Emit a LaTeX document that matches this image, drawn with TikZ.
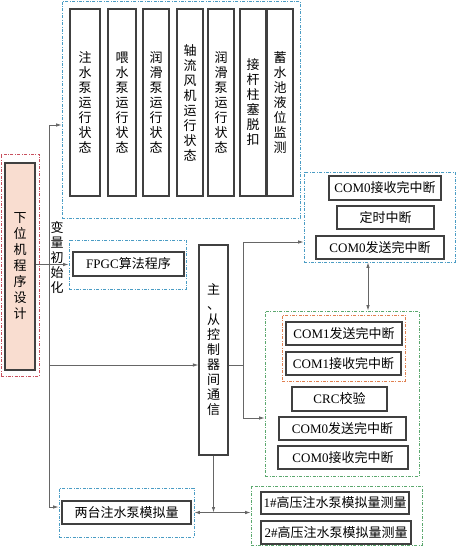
\documentclass[tikz,border=0pt]{standalone}
\usepackage{fontspec}
\setmainfont{Liberation Serif}
\newfontfamily\cjk{Noto Sans CJK SC}
\usetikzlibrary{arrows.meta}
\definecolor{grpblue}{HTML}{4A9CC4}
\definecolor{grpgreen}{HTML}{5BA86E}
\definecolor{grporange}{HTML}{E08050}
\definecolor{grpred}{HTML}{C8505E}
\definecolor{peach}{HTML}{F9DDD0}
\newcommand\en[1]{{\rmfamily #1}}

\begin{document}
\begin{tikzpicture}[x=1pt,y=-1pt,>={Latex[length=5.5pt,width=3.5pt]},font=\cjk\fontsize{13}{15}\selectfont]
	\tikzstyle{box}=[draw=black!75,line width=1.1pt,inner sep=0pt,align=center]
	\tikzstyle{col}=[box,minimum height=187pt]
	\tikzstyle{bar}=[box,minimum height=23pt]
	\tikzstyle{grp}=[line width=0.8pt,dash pattern=on 3pt off 1.5pt on 0.8pt off 1.5pt,inner sep=0pt]
	\tikzstyle{link}=[draw=black!60,line width=0.8pt]
	\useasboundingbox (0,0) rectangle (456,546);

	% groups
	\node[grp,draw=grpred,minimum width=38pt,minimum height=222pt] (maingrp) at (20,265) {};
	\node[grp,draw=grpblue,minimum width=238pt,minimum height=217pt] (stategrp) at (181,109.5) {};
	\node[grp,draw=grpblue,minimum width=117pt,minimum height=49pt] (fpgcgrp) at (127.5,264.5) {};
	\node[grp,draw=grpblue,minimum width=151pt,minimum height=90pt] (intgrp) at (379.5,217) {};
	\node[grp,draw=grpgreen,minimum width=154pt,minimum height=165pt] (commgrp) at (342,393.5) {};
	\node[grp,draw=grporange,minimum width=123pt,minimum height=66pt] (com1grp) at (343.5,348) {};
	\node[grp,draw=grpblue,minimum width=135pt,minimum height=49pt] (pumpgrp) at (126.5,512.5) {};
	\node[grp,draw=grpgreen,minimum width=171pt,minimum height=59pt] (measgrp) at (336.5,515.5) {};

	% boxes
	\node[box,fill=peach,minimum width=30pt,minimum height=207pt,font=\cjk\fontsize{13}{16}\selectfont] (lower) at (20,266.5) {下\\位\\机\\程\\序\\设\\计};
	\node[col,minimum width=30pt] (s1) at (85,102.5) {注\\水\\泵\\运\\行\\状\\态};
	\node[col,minimum width=28pt] (s2) at (122,102.5) {喂\\水\\泵\\运\\行\\状\\态};
	\node[col,minimum width=26pt] (s3) at (156,102.5) {润\\滑\\泵\\运\\行\\状\\态};
	\node[col,minimum width=26pt] (s4) at (190,102.5) {轴\\流\\风\\机\\运\\行\\状\\态};
	\node[col,minimum width=26pt] (s5) at (221,102.5) {润\\滑\\泵\\运\\行\\状\\态};
	\node[col,minimum width=26pt] (s6) at (253,102.5) {接\\杆\\柱\\塞\\脱\\扣};
	\node[col,minimum width=26pt] (s7) at (280,102.5) {蓄\\水\\池\\液\\位\\监\\测};

	\node[box,minimum width=111pt,minimum height=24pt] (fpgc) at (128.5,264) {\en{FPGC}算法程序};
	\node[box,minimum width=29pt,minimum height=210pt] (main) at (213.5,350) {主\\、\\从\\控\\制\\器\\间\\通\\信};

	\node[bar,minimum width=112pt,minimum height=24pt] (r0recv) at (385,188) {\en{COM0}接收完中断};
	\node[bar,minimum width=97pt] (timer) at (385.5,217.5) {定时中断};
	\node[bar,minimum width=128pt] (r0send) at (380,247.5) {\en{COM0}发送完中断};

	\node[bar,minimum width=116pt] (c1send) at (344,333.5) {\en{COM1}发送完中断};
	\node[bar,minimum width=115pt] (c1recv) at (343.5,363.5) {\en{COM1}接收完中断};
	\node[bar,minimum width=95pt,minimum height=24pt] (crc) at (339.5,399) {\en{CRC}校验};
	\node[bar,minimum width=127pt] (c0send) at (342.5,428.5) {\en{COM0}发送完中断};
	\node[bar,minimum width=130pt] (c0recv) at (343,457.5) {\en{COM0}接收完中断};

	\node[bar,minimum width=129pt] (pump) at (126.5,512.5) {两台注水泵模拟量};
	\node[bar,minimum width=148pt,minimum height=22pt] (m1) at (335,503) {\en{1\#}高压注水泵模拟量测量};
	\node[bar,minimum width=150pt] (m2) at (336,532.5) {\en{2\#}高压注水泵模拟量测量};

	\node[align=center,inner sep=0pt] (init) at (57,257) {变\\量\\初\\始\\化};

	% connectors
	\coordinate (jn) at (49,265);
	\coordinate (mid) at (49,365);
	\coordinate (split) at (243,365);
	\draw[link,->] (lower.east |- fpgcgrp.west) -- (fpgcgrp.west);
	\draw[link,->] (jn) |- (stategrp.west |- 0,125);
	\draw[link,->] (jn) |- (pumpgrp.west |- 0,507);
	\draw[link,->] (mid) -- (mid -| main.west);
	\draw[link] (main.east |- split) -- (split);
	\draw[link,->] (split) |- (intgrp.west |- 0,242);
	\draw[link,->] (split) |- (commgrp.west |- 0,418);
	\draw[link,<->] (intgrp.south -| 368,0) -- (commgrp.north -| 368,0);
	\draw[link,->] (main.south) -- (main.south |- pumpgrp.east);
	\draw[link,<->] (pumpgrp.east) -- (pumpgrp.east -| measgrp.west);
\end{tikzpicture}
\end{document}
